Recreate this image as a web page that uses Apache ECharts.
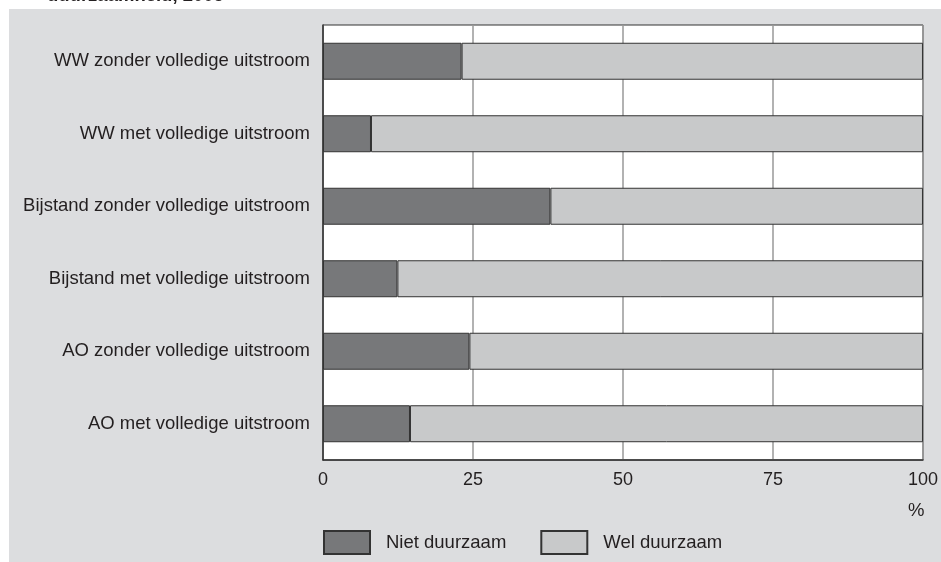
<!DOCTYPE html>
<html>
<head>
<meta charset="utf-8">
<script src="https://cdn.jsdelivr.net/npm/echarts@6/dist/echarts.min.js"></script>
<style>
  html, body { margin: 0; padding: 0; background: #fff; }
  #chart { width: 941px; height: 562px; }
</style>
</head>
<body>
<div id="chart"></div>
<script>
const categories = [
  'WW zonder volledige uitstroom',
  'WW met volledige uitstroom',
  'Bijstand zonder volledige uitstroom',
  'Bijstand met volledige uitstroom',
  'AO zonder volledige uitstroom',
  'AO met volledige uitstroom'
]
const nietDuurzaam = [23.1, 8.0, 37.9, 12.4, 24.4, 14.5]
const welDuurzaam = [76.9, 92.0, 62.1, 87.6, 75.6, 85.5]
const xTicks = [0, 25, 50, 75, 100]

const chart = echarts.init(document.getElementById('chart'))
const font = 'Liberation Sans, Arial, sans-serif'
const textColor = '#231f20'

const option = {
  animation: false,
  backgroundColor: '#fff',
  textStyle: { fontFamily: font },
  graphic: [
    // grijs paneel
    { type: 'rect', left: 9, top: 9, shape: { width: 932, height: 553 }, style: { fill: '#dcdddf' }, z: -10 },
    // afgesneden titel
    { type: 'text', left: 47, top: -14, style: { text: 'duurzaamheid, 2005', font: 'bold 18.5px ' + font, fill: textColor } },
    { type: 'text', left: 908, top: 501, style: { text: '%', font: '18.5px ' + font, fill: textColor } }
  ],
  grid: {
    left: 323, right: 16, top: 25, bottom: 102,
    show: true, backgroundColor: '#fff', borderColor: '#333', borderWidth: 1
  },
  legend: {
    left: 318, top: 525,
    itemWidth: 46, itemHeight: 23, itemGap: 34,
    icon: 'rect',
    textStyle: { fontSize: 18.5, color: textColor, fontFamily: font, padding: [0, 0, 0, 11] },
    data: ['Niet duurzaam', 'Wel duurzaam']
  },
  xAxis: {
    type: 'value', min: 0, max: 100, interval: 25,
    axisLine: { show: true, lineStyle: { color: '#333', width: 1.5 } },
    axisTick: { show: false },
    axisLabel: {
      fontSize: 18, color: textColor, margin: 11,
      formatter: v => xTicks.includes(v) ? String(v) : ''
    },
    splitLine: { show: true, lineStyle: { color: '#999', width: 1.5 } }
  },
  yAxis: {
    type: 'category', data: categories, inverse: true,
    axisLine: { show: true, lineStyle: { color: '#333', width: 1.5 } },
    axisTick: { show: false },
    axisLabel: { fontSize: 18.5, color: textColor, margin: 13 },
    splitLine: { show: false }
  },
  series: [
    {
      name: 'Niet duurzaam', type: 'bar', stack: 'tot', data: nietDuurzaam,
      barWidth: '51%',
      itemStyle: { color: '#77787a', borderColor: '#333', borderWidth: 1 }
    },
    {
      name: 'Wel duurzaam', type: 'bar', stack: 'tot', data: welDuurzaam,
      barWidth: '51%',
      itemStyle: { color: '#c8c9ca', borderColor: '#333', borderWidth: 1 }
    }
  ]
}

chart.setOption(option)
</script>
</body>
</html>
